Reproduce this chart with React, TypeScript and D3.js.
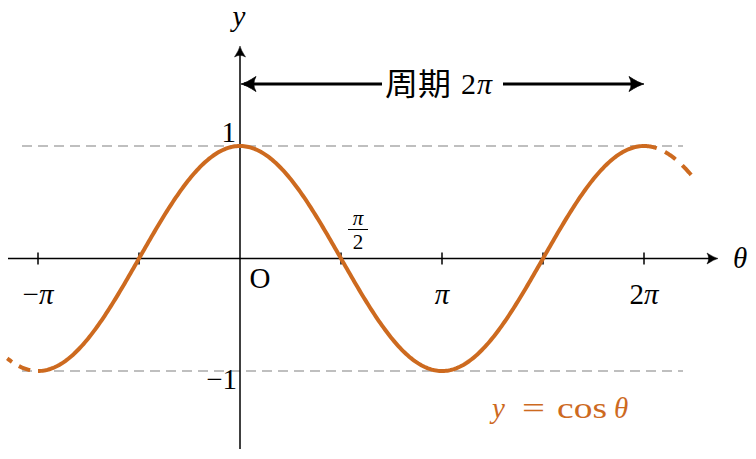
import React from "react";
import * as d3 from "d3";

const W = 756;
const H = 459;

// domain of the drawn (solid) curve and the dashed extensions
const solidDomain = [-Math.PI, 2 * Math.PI];
const dashLeft = [-3.62, -Math.PI];
const dashRight = [2 * Math.PI, 7.1];

const tickValues = [-Math.PI, -Math.PI / 2, Math.PI / 2, Math.PI, 1.5 * Math.PI, 2 * Math.PI];
const xLabelValues = [-Math.PI, Math.PI, 2 * Math.PI];
const xLabelPrefix = ["−", "", "2"];
const guideYs = [1, -1];

const ORANGE = "#CD6A1F";
const SERIF = "'Liberation Serif', 'DejaVu Serif', serif";
const CJK = "'Noto Sans CJK JP', 'Noto Sans CJK SC', sans-serif";
const FS = 29;

const x = d3.scaleLinear().domain([-Math.PI, 2 * Math.PI]).range([38, 644]);
const y = d3.scaleLinear().domain([-1, 1]).range([371, 146]);

function sample(a: number, b: number, n = 200) {
  return d3.range(n + 1).map((i) => {
    const t = a + ((b - a) * i) / n;
    return [t, Math.cos(t)] as [number, number];
  });
}

const line = d3
  .line<[number, number]>()
  .x((d) => x(d[0]))
  .y((d) => y(d[1]))
  .curve(d3.curveLinear);

function ArrowHead({ tx, ty, dir, len, half, sw }: { tx: number; ty: number; dir: number; len: number; half: number; sw: number }) {
  const c = Math.cos(dir), s = Math.sin(dir);
  const p = (a: number, b: number) => [tx + a * c - b * s, ty + a * s + b * c];
  const [x1, y1] = p(-len, -half);
  const [cx1, cy1] = p(-len * 0.35, -half * 0.15);
  const [x2, y2] = p(-len, half);
  const [cx2, cy2] = p(-len * 0.35, half * 0.15);
  const [bx, by] = p(-len * 0.7, 0);
  const d = `M${x1},${y1} Q${cx1},${cy1} ${tx},${ty} Q${cx2},${cy2} ${x2},${y2} Q${bx},${by} ${x1},${y1} Z`;
  return <path d={d} fill="#000" stroke="#000" strokeWidth={sw} strokeLinejoin="round" />;
}

export default function App() {
  const y0 = y(0);
  const xa0 = x(0);
  const periodY = 84;
  return (
    <svg width={W} height={H} style={{ position: "absolute", left: 0, top: 0, background: "#fff" }}>
      {/* guide lines */}
      {guideYs.map((v) => (
        <line key={v} x1={22} x2={683} y1={y(v)} y2={y(v)} stroke="#aaaaaa" strokeWidth={1.5} strokeDasharray="10 6" />
      ))}
      {/* x axis */}
      <line x1={8} x2={714} y1={y0} y2={y0} stroke="#000" strokeWidth={1.5} />
      <ArrowHead tx={718} ty={y0} dir={0} len={11} half={5.5} sw={0.5} />
      {/* y axis */}
      <line x1={xa0} x2={xa0} y1={449} y2={50} stroke="#000" strokeWidth={1.5} />
      <ArrowHead tx={xa0} ty={46} dir={-Math.PI / 2} len={11} half={5.5} sw={0.5} />
      {/* ticks */}
      {tickValues.map((t, i) => (
        <line key={i} x1={x(t)} x2={x(t)} y1={y0 - 6} y2={y0 + 6} stroke="#000" strokeWidth={1.5} />
      ))}
      {/* curve */}
      <path d={line(sample(solidDomain[0], solidDomain[1], 400)) || ""} fill="none" stroke={ORANGE} strokeWidth={4} strokeLinecap="butt" />
      <path d={line(sample(dashLeft[0], dashLeft[1], 40)) || ""} fill="none" stroke={ORANGE} strokeWidth={4} strokeDasharray="12 8" strokeDashoffset={6} />
      <path d={line(sample(dashRight[0], dashRight[1], 80)) || ""} fill="none" stroke={ORANGE} strokeWidth={4} strokeDasharray="13 9" />
      {/* period arrow */}
      <line x1={xa0 + 4} x2={382} y1={periodY} y2={periodY} stroke="#000" strokeWidth={3} />
      <line x1={503} x2={x(2 * Math.PI) - 4} y1={periodY} y2={periodY} stroke="#000" strokeWidth={3} />
      <ArrowHead tx={xa0 + 1} ty={periodY} dir={Math.PI} len={15} half={7.5} sw={0.8} />
      <ArrowHead tx={x(2 * Math.PI)} ty={periodY} dir={0} len={15} half={7.5} sw={0.8} />
      <text x={385} y={periodY + 11} fontFamily={CJK} fontSize={31} fill="#000" textLength={66} lengthAdjust="spacingAndGlyphs">周期</text>
      <text x={461} y={periodY + 10} fontFamily={SERIF} fontSize={30} fill="#000">2</text>
      <text x={477} y={periodY + 10} fontFamily={SERIF} fontStyle="italic" fontSize={30} fill="#000">π</text>
      {/* axis labels */}
      <text x={239} y={26} fontFamily={SERIF} fontStyle="italic" fontSize={FS} textAnchor="middle">y</text>
      <text x={740} y={268} fontFamily={SERIF} fontStyle="italic" fontSize={FS} textAnchor="middle">θ</text>
      <text x={236} y={142} fontFamily={SERIF} fontSize={FS} textAnchor="end">1</text>
      <text x={237} y={389} fontFamily={SERIF} fontSize={FS} textAnchor="end">−1</text>
      <text x={260} y={288} fontFamily={SERIF} fontSize={FS} textAnchor="middle">O</text>
      {xLabelValues.map((v, i) => (
        <text key={i} x={x(v)} y={304} fontFamily={SERIF} fontSize={FS} textAnchor="middle">
          {xLabelPrefix[i]}
          <tspan fontStyle="italic">π</tspan>
        </text>
      ))}
      {/* pi/2 */}
      <text x={358} y={225} fontFamily={SERIF} fontStyle="italic" fontSize={21} textAnchor="middle">π</text>
      <line x1={348} x2={368} y1={229.5} y2={229.5} stroke="#000" strokeWidth={1} />
      <text x={358} y={249} fontFamily={SERIF} fontSize={21} textAnchor="middle">2</text>
      {/* function label */}
      <g fontFamily={SERIF} fontSize={FS} fill={ORANGE}>
        <text x={492} y={418} fontStyle="italic">y</text>
        <text x={522} y={418} textLength={23} lengthAdjust="spacingAndGlyphs">=</text>
        <text x={557} y={418} textLength={50} lengthAdjust="spacingAndGlyphs">cos</text>
        <text x={614} y={418} fontStyle="italic">θ</text>
      </g>
    </svg>
  );
}
